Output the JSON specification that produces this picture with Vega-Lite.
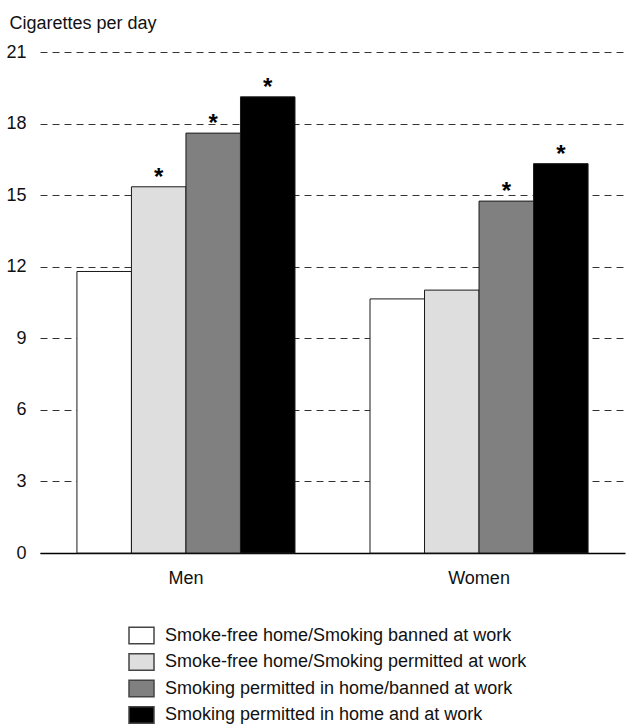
{
  "$schema": "https://vega.github.io/schema/vega-lite/v6.json",
  "width": 585,
  "height": 501,
  "autosize": "none",
  "padding": {"left": 40, "top": 52, "right": 4, "bottom": 174},
  "background": "white",
  "config": {
    "font": "Liberation Sans",
    "view": {"stroke": null}
  },
  "data": {
    "values": [
      {"sex": "Men", "cat": "Smoke-free home/Smoking banned at work", "value": 11.8, "sig": ""},
      {"sex": "Men", "cat": "Smoke-free home/Smoking permitted at work", "value": 15.35, "sig": "*"},
      {"sex": "Men", "cat": "Smoking permitted in home/banned at work", "value": 17.6, "sig": "*"},
      {"sex": "Men", "cat": "Smoking permitted in home and at work", "value": 19.12, "sig": "*"},
      {"sex": "Women", "cat": "Smoke-free home/Smoking banned at work", "value": 10.65, "sig": ""},
      {"sex": "Women", "cat": "Smoke-free home/Smoking permitted at work", "value": 11.02, "sig": ""},
      {"sex": "Women", "cat": "Smoking permitted in home/banned at work", "value": 14.75, "sig": "*"},
      {"sex": "Women", "cat": "Smoking permitted in home and at work", "value": 16.32, "sig": "*"}
    ]
  },
  "encoding": {
    "x": {
      "field": "sex", "type": "nominal",
      "scale": {"paddingInner": 0.256, "paddingOuter": 0.126},
      "axis": {
        "title": null, "labelAngle": 0, "ticks": false, "labelPadding": 16,
        "labelFontSize": 18, "labelColor": "#111", "domainColor": "#000", "domainWidth": 1.5
      }
    },
    "xOffset": {
      "field": "cat", "type": "nominal",
      "sort": [
        "Smoke-free home/Smoking banned at work",
        "Smoke-free home/Smoking permitted at work",
        "Smoking permitted in home/banned at work",
        "Smoking permitted in home and at work"
      ],
      "scale": {"paddingInner": 0, "paddingOuter": 0}
    },
    "y": {
      "field": "value", "type": "quantitative",
      "scale": {"domain": [0, 21], "nice": false},
      "axis": {
        "values": [0, 3, 6, 9, 12, 15, 18, 21],
        "domain": false, "ticks": false, "labelPadding": 14,
        "labelFontSize": 18, "labelColor": "#111",
        "grid": true, "gridDash": [7, 5], "gridColor": "#333", "gridWidth": 1,
        "title": "Cigarettes per day", "titleAngle": 0, "titleAlign": "left",
        "titleBaseline": "alphabetic", "titleX": -31, "titleY": -24,
        "titleFontSize": 18, "titleFontWeight": "normal", "titleColor": "#111"
      }
    }
  },
  "layer": [
    {
      "mark": {"type": "bar", "stroke": "#1a1a1a", "strokeWidth": 1},
      "encoding": {
        "color": {
          "field": "cat", "type": "nominal",
          "sort": [
            "Smoke-free home/Smoking banned at work",
            "Smoke-free home/Smoking permitted at work",
            "Smoking permitted in home/banned at work",
            "Smoking permitted in home and at work"
          ],
          "scale": {"range": ["#ffffff", "#dedede", "#808080", "#000000"]},
          "legend": {
            "title": null, "orient": "none", "legendX": 88, "legendY": 570,
            "direction": "vertical", "padding": 0,
            "symbolType": "M-1,-0.66H1V0.66H-1Z", "symbolSize": 625,
            "symbolStrokeColor": "#444", "symbolStrokeWidth": 1.5, "symbolOpacity": 1,
            "labelFontSize": 18, "labelColor": "#111", "labelOffset": 10,
            "rowPadding": 1.5, "labelLimit": 500
          }
        }
      }
    },
    {
      "mark": {"type": "text", "baseline": "bottom", "fontSize": 24, "fontWeight": "bold", "dy": 3, "color": "#000"},
      "encoding": {
        "text": {"field": "sig"}
      }
    }
  ]
}
